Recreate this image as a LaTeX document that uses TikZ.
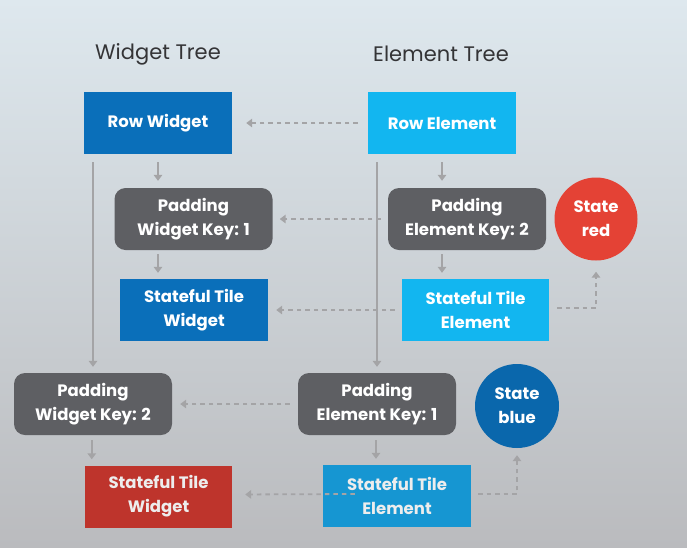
\documentclass[tikz,border=0pt]{standalone}
\usepackage{fontspec}
\setmainfont{Poppins}
\usetikzlibrary{arrows.meta}
\definecolor{rowblue}{RGB}{10,111,186}
\definecolor{ltblue}{RGB}{18,182,240}
\definecolor{dkgrey}{RGB}{94,95,99}
\definecolor{statered}{RGB}{228,66,53}
\definecolor{boxred}{RGB}{190,52,44}
\definecolor{midblue}{RGB}{22,150,210}
\definecolor{stateblue}{RGB}{10,103,172}
\definecolor{arrgrey}{RGB}{164,164,166}
\definecolor{titlegrey}{RGB}{52,52,54}
\tikzset{
  blk/.style={text=white, font=\fontsize{16.5}{24}\selectfont\bfseries, align=center, inner sep=0pt, minimum height=62pt},
  sq/.style={blk, minimum width=148pt},
  pad/.style={blk, fill=dkgrey, rounded corners=11pt, minimum width=158pt},
  st/.style={blk, circle, minimum size=83pt},
  arr/.style={draw=arrgrey, line width=1.8pt, -{Triangle[length=6pt,width=8.5pt]}},
  darr/.style={arr, dash pattern=on 4.5pt off 4pt},
  ttl/.style={text=titlegrey, font=\fontsize{21}{25}\selectfont}
}
\begin{document}
\begin{tikzpicture}[x=1pt,y=-1pt]
\useasboundingbox (0,0) rectangle (687,547);
\shade[top color={rgb,255:red,222;green,232;blue,238}, middle color={rgb,255:red,220;green,224;blue,226}, bottom color={rgb,255:red,186;green,187;blue,190}] (0,0) rectangle (687,547);
\node[ttl] (tw) at (158,54) {Widget Tree};
\node[ttl] (te) at (441,54) {Element Tree};
\node[sq, fill=rowblue] (rw) at (158,123) {Row Widget};
\node[sq, fill=ltblue] (re) at (442,123) {Row Element};
\node[pad] (pw1) at (193.5,219) {Padding\\Widget Key: 1};
\node[pad] (pe2) at (467,219) {Padding\\Element Key: 2};
\node[st, fill=statered] (sr) at (596,219) {State\\red};
\node[sq, fill=rowblue] (stw1) at (194,310) {Stateful Tile\\Widget};
\node[sq, fill=ltblue, minimum width=147pt] (ste1) at (475.5,310) {Stateful Tile\\Element};
\node[pad] (pw2) at (93,404) {Padding\\Widget Key: 2};
\node[pad] (pe1) at (377,404) {Padding\\Element Key: 1};
\node[st, fill=stateblue, minimum size=84pt] (sb) at (517,406) {State\\blue};
\node[sq, fill=boxred, text=white!86!gray, minimum width=147pt] (stw2) at (158.5,496.5) {Stateful Tile\\Widget};
\node[sq, fill=midblue, text=white!86!gray] (ste2) at (397,496) {Stateful Tile\\Element};
% tree arrows
\draw[arr, shorten <=8pt, shorten >=7pt] (rw.south) -- (rw.south |- pw1.north);
\draw[arr, shorten <=4pt, shorten >=6pt] (pw1.south -| rw.south) -- (stw1.north -| rw.south);
\draw[arr, shorten <=8pt, shorten >=7pt] (re.south) -- (re.south |- pe2.north);
\draw[arr, shorten <=4pt, shorten >=6pt] (pe2.south -| re.south) -- (ste1.north -| re.south);
\draw[arr, shorten <=8pt, shorten >=6pt] (pw2.north |- rw.south) -- (pw2.north);
\draw[arr, shorten <=8pt, shorten >=6pt] (pe1.north |- re.south) -- (pe1.north);
\draw[arr, shorten <=5pt, shorten >=6pt] (pw2.south -| stw2.west) ++(7,0) coordinate (a1) (a1) -- (a1 |- stw2.north);
\draw[arr, shorten <=5pt, shorten >=6pt] (pe1.south) ++(-1,0) coordinate (a2) (a2) -- (a2 |- ste2.north);
% dashed links
\draw[darr, shorten <=10pt, shorten >=14pt] (re.west) -- (rw.east);
\draw[darr, shorten <=7pt, shorten >=7pt] (pe2.west) -- (pw1.east);
\draw[darr, shorten <=7pt, shorten >=8pt] (ste1.west) -- (stw1.east);
\draw[darr, shorten <=8pt, shorten >=8pt] (pe1.west) -- (pw2.east);
\draw[darr, shorten >=13pt] ([xshift=32pt,yshift=2pt]ste2.west) -- ([yshift=2pt]stw2.east);
\draw[darr, shorten >=11pt] ([xshift=8pt,yshift=2pt]ste1.east) -| (sr.south);
\draw[darr, shorten >=7pt] ([xshift=7pt,yshift=2pt]ste2.east) -| (sb.south);
\end{tikzpicture}
\end{document}
